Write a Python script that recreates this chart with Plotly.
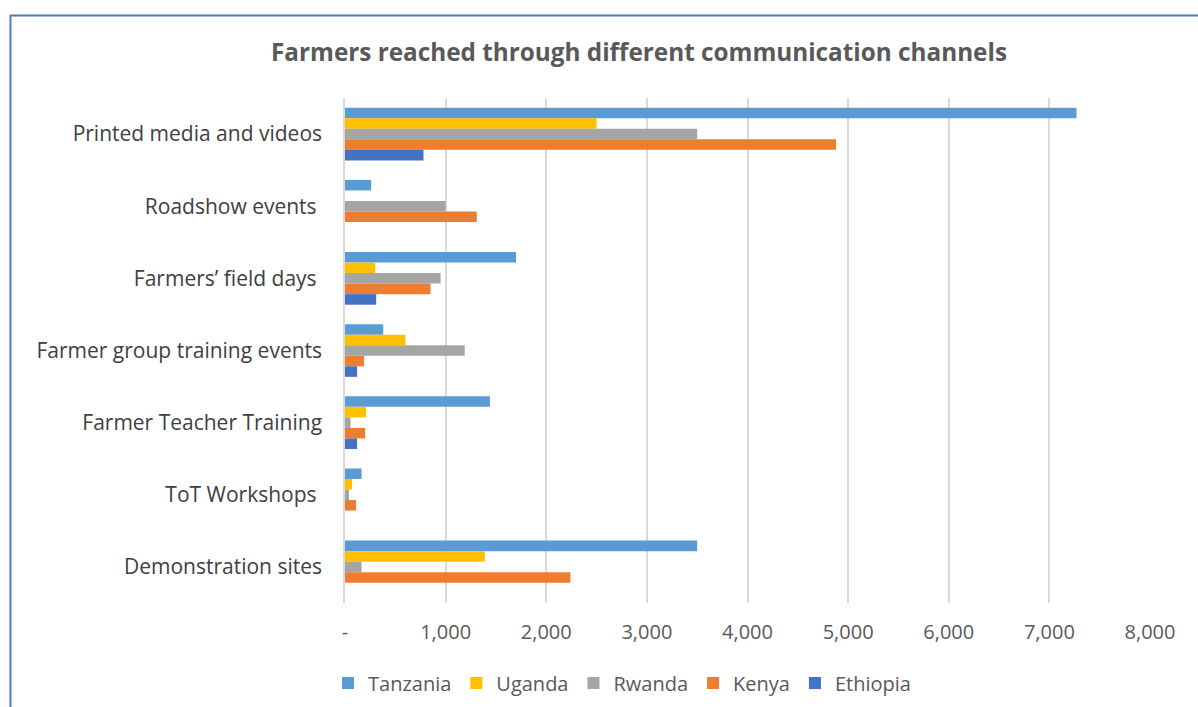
import plotly.graph_objects as go

categories = ["Printed media and videos", "Roadshow events ", "Farmers\u2019 field days ",
              "Farmer group training events", "Farmer Teacher Training", "ToT Workshops ",
              "Demonstration sites"]
tanzania = [7270, 260, 1700, 380, 1440, 165, 3500]
uganda = [2500, None, 300, 600, 210, 70, 1390]
rwanda = [3500, 1000, 950, 1190, 55, 40, 165]
kenya = [4880, 1310, 850, 190, 200, 110, 2240]
ethiopia = [780, None, 310, 120, 120, None, None]

series = [("Tanzania", tanzania, "#5B9BD5"), ("Uganda", uganda, "#FFC000"),
          ("Rwanda", rwanda, "#A5A5A5"), ("Kenya", kenya, "#ED7D31"),
          ("Ethiopia", ethiopia, "#4472C4")]

tick_vals = [0, 1000, 2000, 3000, 4000, 5000, 6000, 7000, 8000]
tick_text = ["-", "1,000", "2,000", "3,000", "4,000", "5,000", "6,000", "7,000", "8,000"]

fig = go.Figure()
for name, vals, color in series:
    fig.add_trace(go.Bar(y=categories, x=vals, name=name, orientation="h",
                         marker=dict(color=color, line=dict(width=0))))

W, H = 1198, 707
L, R, T, B = 345, 48, 98, 104
pw, ph = W - L - R, H - T - B

def px_x(x):
    return (x - L) / pw

def px_y(y):
    return (H - B - y) / ph

fig.update_layout(
    width=W, height=H,
    margin=dict(l=L, r=R, t=T, b=B, autoexpand=False),
    paper_bgcolor="white", plot_bgcolor="white",
    barmode="group", bargap=0.27, bargroupgap=0,
    font=dict(family="Open Sans, sans-serif", color="#595959", size=20),
    title=dict(text="<b>Farmers reached through different communication channels</b>",
               x=639 / W, xref="container", xanchor="center",
               y=1 - 52 / H, yref="container", yanchor="middle",
               font=dict(size=24.3, color="#595959")),
    xaxis=dict(range=[0, 8000], tickvals=tick_vals, ticktext=tick_text,
               showgrid=True, gridcolor="#D9D9D9", gridwidth=1.5,
               zeroline=False, showline=False, ticks="", ticklabelstandoff=15,
               tickfont=dict(size=20, color="#595959")),
    yaxis=dict(autorange="reversed", showgrid=False, ticks="",
               showline=True, linecolor="#D9D9D9", linewidth=1.5,
               ticklabelstandoff=17, tickfont=dict(size=21, color="#404040")),
    legend=dict(orientation="h", xref="container", yref="container",
                x=622 / W, xanchor="center",
                y=1 - 683 / H, yanchor="middle", font=dict(size=20, color="#595959"),
                itemwidth=30, traceorder="normal"),
    shapes=[dict(type="path", xref="paper", yref="paper",
                 path=f"M {px_x(10.5)} {px_y(720)} L {px_x(10.5)} {px_y(15.5)} L {px_x(1210)} {px_y(15.5)}",
                 line=dict(color="#4F7CC4", width=2))],
)

fig.write_html("out.html", config={"displayModeBar": False},
               post_script="document.body.style.margin='0';document.body.style.overflow='hidden';")
